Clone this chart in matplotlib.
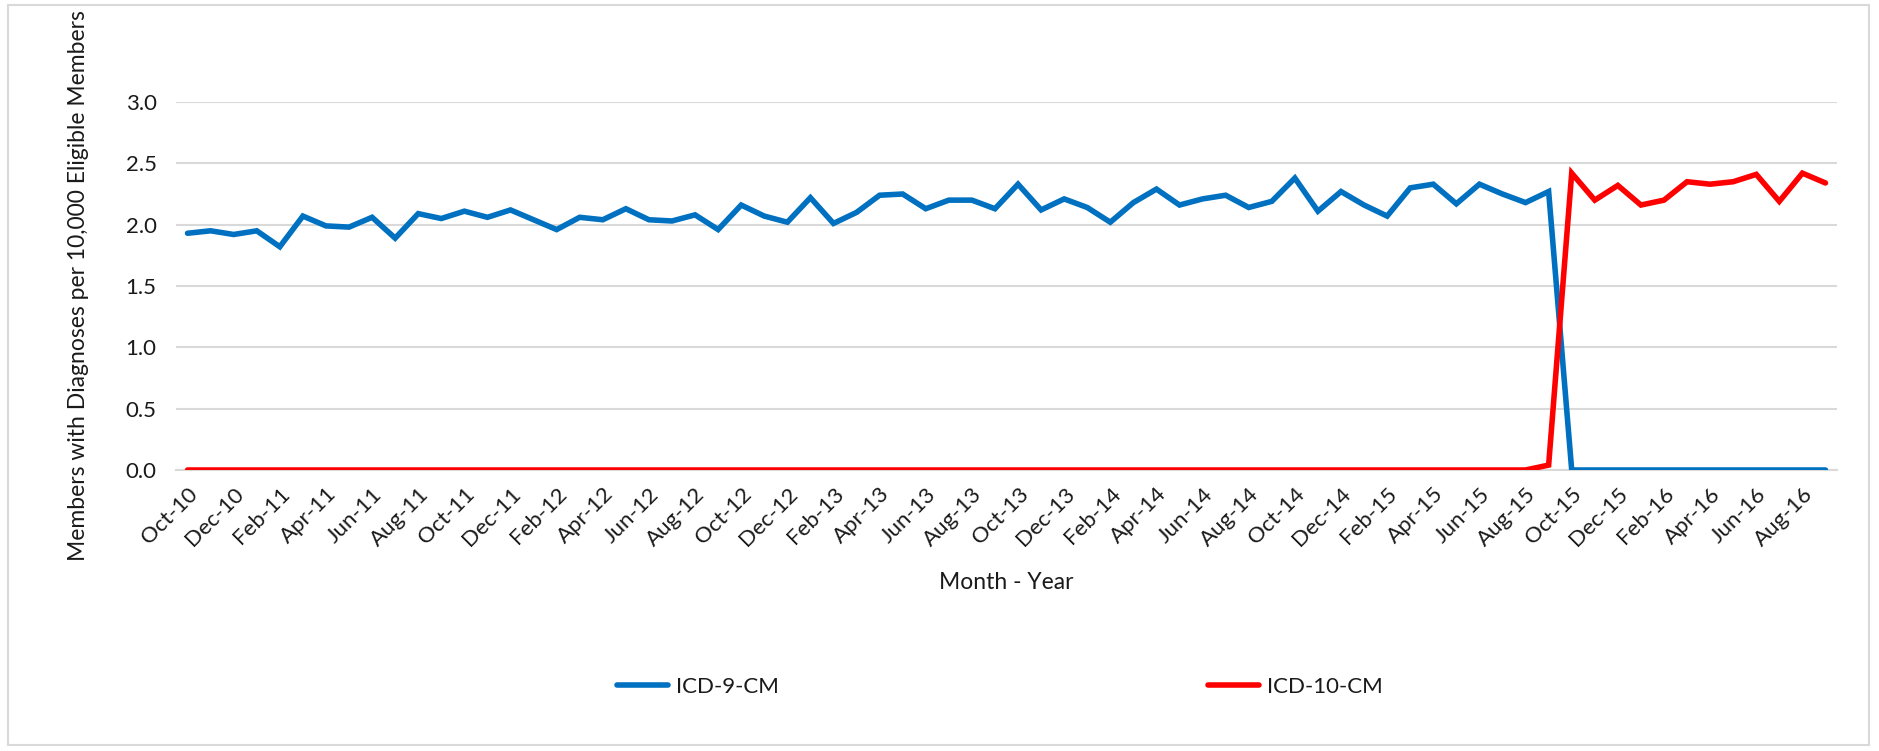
import numpy as np
import matplotlib
matplotlib.use('Agg')
import matplotlib.pyplot as plt
import matplotlib.patches as mpatches

plt.rcParams['font.family'] = ['Lato', 'DejaVu Sans']

# Monatswerte Oct-10 .. Sep-16
months = ['Oct', 'Nov', 'Dec', 'Jan', 'Feb', 'Mar', 'Apr', 'May', 'Jun', 'Jul', 'Aug', 'Sep']
labels = []
for i in range(72):
    m = months[i % 12]
    yr = 10 + (i + 9) // 12
    labels.append(f'{m}-{yr}')

icd9 = [1.93, 1.95, 1.92, 1.95, 1.82, 2.07, 1.99, 1.98, 2.06, 1.89, 2.09, 2.05,
        2.11, 2.06, 2.12, 2.04, 1.96, 2.06, 2.04, 2.13, 2.04, 2.03, 2.08, 1.96,
        2.16, 2.07, 2.02, 2.22, 2.01, 2.10, 2.24, 2.25, 2.13, 2.20, 2.20, 2.13,
        2.33, 2.12, 2.21, 2.14, 2.02, 2.18, 2.29, 2.16, 2.21, 2.24, 2.14, 2.19,
        2.38, 2.11, 2.27, 2.16, 2.07, 2.30, 2.33, 2.17, 2.33, 2.25, 2.18, 2.27,
        0, 0, 0, 0, 0, 0, 0, 0, 0, 0, 0, 0]

icd10 = [0] * 59 + [0.04,
         2.42, 2.20, 2.32, 2.16, 2.20, 2.35, 2.33, 2.35, 2.41, 2.19, 2.42, 2.34]

W, H = 1879, 751
fig = plt.figure(figsize=(W / 100, H / 100), dpi=100, facecolor='white')

# Rahmen ums ganze Chart
fig.patches.append(mpatches.Rectangle((8 / W, 1 - 745 / H), (1869 - 8) / W, (745 - 5) / H,
                                      transform=fig.transFigure, fill=False,
                                      edgecolor='#D9D9D9', linewidth=1.5))

ax = fig.add_axes([176 / W, 1 - 470 / H, (1837 - 176) / W, (470 - 102) / H])
x = np.arange(len(labels))

ax.plot(x, icd9, color='#0070C0', linewidth=4.0, label='ICD-9-CM',
        solid_capstyle='round', solid_joinstyle='miter', zorder=3)
ax.plot(x, icd10, color='#FF0000', linewidth=4.0, label='ICD-10-CM',
        solid_capstyle='round', solid_joinstyle='miter', zorder=3)

ax.set_xlim(-0.5, len(labels) - 0.5)
ax.set_ylim(0, 3.0)
ax.set_yticks(np.arange(0, 3.01, 0.5))
ax.set_yticklabels([f'{v:.1f}' for v in np.arange(0, 3.01, 0.5)])
ax.set_xticks(x[::2])
ax.set_xticklabels(labels[::2], rotation=45, ha='right', va='top',
                   rotation_mode='anchor')

ax.grid(axis='y', color='#D9D9D9', linewidth=1.5, zorder=0)
ax.set_axisbelow(True)
for s in ['top', 'right', 'left']:
    ax.spines[s].set_visible(False)
ax.spines['bottom'].set_color('#D9D9D9')
ax.spines['bottom'].set_linewidth(1.5)
ax.tick_params(axis='both', length=0, labelsize=16, colors='#1a1a1a')
ax.tick_params(axis='x', pad=10)
ax.tick_params(axis='y', pad=14)

ax.set_ylabel('Members with Diagnoses per 10,000 Eligible Members',
              fontsize=16.5, color='#1a1a1a', labelpad=26)
ax.set_xlabel('Month - Year', fontsize=16.5, color='#1a1a1a', labelpad=16)

fig.legend(loc='center', bbox_to_anchor=(1000 / W, 1 - 687 / H), ncol=2,
           frameon=False, fontsize=16, handlelength=2.3, handletextpad=0.35,
           columnspacing=19.3, labelcolor='#1a1a1a')

plt.savefig('out.png', dpi=100, facecolor='white')
plt.close()
